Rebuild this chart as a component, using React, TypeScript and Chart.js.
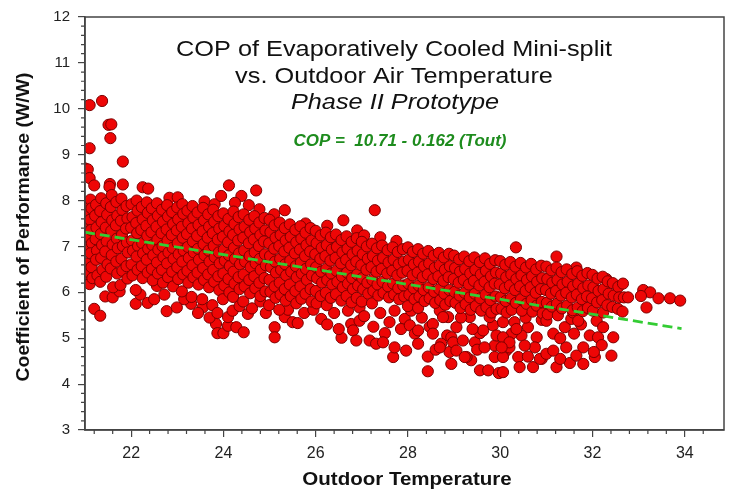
import { useEffect, useRef } from "react";
import { Chart, registerables } from "chart.js";

Chart.register(...registerables);

const FONT = '"Liberation Sans", Arial, Helvetica, sans-serif';

const X_MIN = 21;
const X_MAX = 34.85;
const Y_MIN = 3;
const Y_MAX = 12;
const xTickValues = [22, 24, 26, 28, 30, 32, 34];
const yTickValues = [3, 4, 5, 6, 7, 8, 9, 10, 11, 12];

const titleLines = [
  "COP of Evaporatively Cooled Mini-split",
  "vs. Outdoor Air Temperature",
  "Phase II Prototype",
];
const equationText = "COP =  10.71 - 0.162 (Tout)";
const xAxisTitle = "Outdoor Temperature";
const yAxisTitle = "Coefficient of Performance (W/W)";

// fitted regression line end points (x, COP)
const fitLine: [number, number][] = [
  [21.0, 7.31],
  [33.93, 5.21],
];

// measured points, grouped by outdoor temperature band
const t21: [number, number][] = [
  [21.10, 10.08], [21.37, 10.17], [21.51, 9.65], [21.57, 9.66], [21.55, 9.36], [21.10, 9.14], [21.82, 8.85],
  [21.00, 8.70], [21.06, 8.68], [21.10, 8.49], [21.20, 8.33], [21.54, 8.36], [21.82, 8.35], [21.53, 8.30],
  [21.20, 5.64], [21.33, 5.49], [21.10, 6.18], [21.44, 5.91], [21.60, 5.89], [21.02, 6.40], [21.75, 6.02],
  [21.02, 7.95], [21.03, 7.70], [21.01, 7.47], [21.04, 7.22], [21.02, 6.97], [21.03, 6.63], [21.05, 6.45],
  [21.12, 8.02], [21.14, 7.83], [21.11, 7.58], [21.13, 7.36], [21.15, 7.07], [21.12, 6.85], [21.14, 6.55], [21.16, 6.31],
  [21.24, 7.91], [21.22, 7.67], [21.25, 7.41], [21.23, 7.16], [21.26, 6.91], [21.24, 6.71], [21.27, 6.37],
  [21.35, 8.05], [21.33, 7.77], [21.36, 7.53], [21.34, 7.27], [21.37, 7.03], [21.35, 6.75], [21.38, 6.49], [21.33, 6.23],
  [21.46, 7.94], [21.48, 7.69], [21.45, 7.41], [21.47, 7.11], [21.44, 6.89], [21.49, 6.61], [21.46, 6.34],
  [21.58, 8.12], [21.56, 7.86], [21.59, 7.57], [21.57, 7.34], [21.60, 7.04], [21.58, 6.81], [21.56, 6.52], [21.61, 6.11],
  [21.68, 7.97], [21.70, 7.67], [21.67, 7.46], [21.69, 7.17], [21.71, 6.96], [21.68, 6.67], [21.70, 6.41],
  [21.79, 8.04], [21.81, 7.79], [21.78, 7.56], [21.80, 7.25], [21.82, 7.01], [21.79, 6.73], [21.81, 6.47], [21.77, 6.16],
  [21.90, 7.88], [21.92, 7.61], [21.89, 7.39], [21.91, 7.09], [21.93, 6.87], [21.90, 6.57], [21.92, 6.30],
];

const t22: [number, number][] = [
  [22.25, 8.29], [22.37, 8.26], [22.83, 8.06],
  [22.10, 5.75], [22.36, 5.77], [22.77, 5.59], [22.99, 5.67], [22.72, 5.95], [22.56, 6.14], [22.20, 5.95], [22.50, 5.85],
  [22.01, 7.92], [22.03, 7.64], [22.00, 7.41], [22.02, 7.13], [22.04, 6.91], [22.01, 6.61], [22.03, 6.37],
  [22.12, 8.00], [22.14, 7.78], [22.11, 7.51], [22.13, 7.29], [22.15, 7.01], [22.12, 6.78], [22.14, 6.49], [22.10, 6.05],
  [22.23, 7.86], [22.25, 7.59], [22.22, 7.36], [22.24, 7.07], [22.26, 6.85], [22.23, 6.57], [22.25, 6.31],
  [22.34, 7.96], [22.36, 7.73], [22.33, 7.45], [22.35, 7.23], [22.37, 6.95], [22.34, 6.71], [22.36, 6.43],
  [22.45, 7.83], [22.47, 7.57], [22.44, 7.31], [22.46, 7.03], [22.48, 6.81], [22.45, 6.51], [22.47, 6.26],
  [22.56, 7.94], [22.58, 7.67], [22.55, 7.43], [22.57, 7.15], [22.59, 6.93], [22.56, 6.65], [22.58, 6.41],
  [22.67, 7.80], [22.69, 7.54], [22.66, 7.29], [22.68, 7.01], [22.70, 6.77], [22.67, 6.49], [22.69, 6.21],
  [22.78, 7.90], [22.80, 7.65], [22.77, 7.37], [22.79, 7.13], [22.81, 6.87], [22.78, 6.63], [22.80, 6.33],
  [22.89, 7.75], [22.91, 7.49], [22.88, 7.25], [22.90, 6.97], [22.92, 6.73], [22.89, 6.45], [22.91, 6.13],
];

const t23: [number, number][] = [
  [23.01, 8.07], [23.59, 7.98], [23.81, 7.92], [23.95, 8.10],
  [23.30, 5.75], [23.55, 5.67], [23.84, 5.31], [23.87, 5.11], [23.70, 5.45], [23.15, 5.85], [23.45, 5.55],
  [23.00, 7.85], [23.02, 7.59], [22.99, 7.35], [23.01, 7.07], [23.03, 6.83], [23.00, 6.55], [23.02, 6.29],
  [23.11, 7.92], [23.13, 7.71], [23.10, 7.43], [23.12, 7.19], [23.14, 6.91], [23.11, 6.67], [23.13, 6.39], [23.10, 6.02],
  [23.22, 7.78], [23.24, 7.51], [23.21, 7.27], [23.23, 6.99], [23.25, 6.75], [23.22, 6.47], [23.24, 6.21],
  [23.33, 7.88], [23.35, 7.63], [23.32, 7.39], [23.34, 7.11], [23.36, 6.87], [23.33, 6.59], [23.35, 6.33], [23.31, 5.90],
  [23.44, 7.74], [23.46, 7.47], [23.43, 7.23], [23.45, 6.95], [23.47, 6.71], [23.44, 6.43], [23.46, 6.17],
  [23.56, 7.84], [23.58, 7.57], [23.55, 7.33], [23.57, 7.05], [23.59, 6.81], [23.56, 6.53], [23.58, 6.27], [23.54, 5.85],
  [23.67, 7.70], [23.69, 7.43], [23.66, 7.19], [23.68, 6.91], [23.70, 6.67], [23.67, 6.39], [23.69, 6.11],
  [23.78, 7.80], [23.80, 7.54], [23.77, 7.29], [23.79, 7.01], [23.81, 6.77], [23.78, 6.49], [23.80, 6.23], [23.76, 5.72],
  [23.89, 7.66], [23.91, 7.39], [23.88, 7.15], [23.90, 6.87], [23.92, 6.63], [23.89, 6.35], [23.91, 6.05], [23.87, 5.55],
];

const t24: [number, number][] = [
  [24.12, 8.33], [24.39, 8.10], [24.71, 8.22], [24.78, 7.81], [24.25, 7.95], [24.55, 7.90],
  [24.00, 5.11], [24.10, 5.27], [24.28, 5.24], [24.44, 5.13], [24.10, 5.46], [24.53, 5.53], [24.20, 5.60],
  [24.35, 5.70], [24.62, 5.65], [24.80, 5.80], [24.92, 5.55],
  [24.00, 7.72], [24.02, 7.45], [23.99, 7.21], [24.01, 6.93], [24.03, 6.69], [24.00, 6.41], [24.02, 6.15], [23.99, 5.85],
  [24.11, 7.60], [24.13, 7.33], [24.10, 7.09], [24.12, 6.81], [24.14, 6.57], [24.11, 6.29], [24.13, 6.00],
  [24.22, 7.76], [24.24, 7.49], [24.21, 7.25], [24.23, 6.97], [24.25, 6.73], [24.22, 6.45], [24.24, 6.19], [24.21, 5.90],
  [24.33, 7.64], [24.35, 7.37], [24.32, 7.13], [24.34, 6.85], [24.36, 6.61], [24.33, 6.33], [24.35, 6.07],
  [24.44, 7.70], [24.46, 7.43], [24.43, 7.19], [24.45, 6.91], [24.47, 6.67], [24.44, 6.39], [24.46, 6.13], [24.43, 5.80],
  [24.56, 7.58], [24.58, 7.31], [24.55, 7.07], [24.57, 6.79], [24.59, 6.55], [24.56, 6.27], [24.58, 5.98],
  [24.67, 7.66], [24.69, 7.39], [24.66, 7.15], [24.68, 6.87], [24.70, 6.63], [24.67, 6.35], [24.69, 6.09],
  [24.78, 7.52], [24.80, 7.25], [24.77, 7.01], [24.79, 6.73], [24.81, 6.49], [24.78, 6.21], [24.80, 5.92],
  [24.89, 7.62], [24.91, 7.35], [24.88, 7.11], [24.90, 6.83], [24.92, 6.59], [24.89, 6.31], [24.91, 6.02],
];

const t25: [number, number][] = [
  [25.33, 7.79], [25.78, 7.50], [25.10, 7.70],
  [25.11, 5.24], [25.11, 5.02], [25.33, 5.46], [25.50, 5.35], [25.61, 5.33], [25.40, 5.62], [25.75, 5.55], [25.95, 5.62],
  [25.00, 7.58], [25.02, 7.31], [24.99, 7.07], [25.01, 6.79], [25.03, 6.55], [25.00, 6.27], [25.02, 6.01], [24.99, 5.72],
  [25.11, 7.46], [25.13, 7.19], [25.10, 6.95], [25.12, 6.67], [25.14, 6.43], [25.11, 6.13], [25.13, 5.88],
  [25.22, 7.52], [25.24, 7.25], [25.21, 7.01], [25.23, 6.73], [25.25, 6.49], [25.22, 6.21], [25.24, 5.95], [25.21, 5.62],
  [25.33, 7.40], [25.35, 7.13], [25.32, 6.89], [25.34, 6.61], [25.36, 6.37], [25.33, 6.07], [25.35, 5.82],
  [25.44, 7.48], [25.46, 7.21], [25.43, 6.97], [25.45, 6.69], [25.47, 6.45], [25.44, 6.17], [25.46, 5.92],
  [25.56, 7.36], [25.58, 7.09], [25.55, 6.85], [25.57, 6.57], [25.59, 6.33], [25.56, 6.03], [25.58, 5.76],
  [25.67, 7.44], [25.69, 7.17], [25.66, 6.93], [25.68, 6.65], [25.70, 6.41], [25.67, 6.13], [25.69, 5.86],
  [25.78, 7.30], [25.80, 7.03], [25.77, 6.79], [25.79, 6.51], [25.81, 6.27], [25.78, 5.97],
  [25.89, 7.40], [25.91, 7.13], [25.88, 6.89], [25.90, 6.61], [25.92, 6.37], [25.89, 6.07], [25.91, 5.80],
];

const t26: [number, number][] = [
  [26.60, 7.57], [26.25, 7.45], [26.90, 7.35],
  [26.12, 5.42], [26.56, 5.01], [26.77, 5.31], [26.95, 5.38], [26.81, 5.17], [26.95, 5.67], [26.40, 5.55], [26.70, 5.60], [26.25, 5.30],
  [26.50, 5.20], [26.88, 4.95],
  [26.00, 7.34], [26.02, 7.07], [25.99, 6.83], [26.01, 6.55], [26.03, 6.31], [26.00, 6.03], [26.02, 5.76],
  [26.11, 7.24], [26.13, 6.97], [26.10, 6.73], [26.12, 6.45], [26.14, 6.21], [26.11, 5.92],
  [26.22, 7.30], [26.24, 7.03], [26.21, 6.79], [26.23, 6.51], [26.25, 6.27], [26.22, 5.99], [26.24, 5.72],
  [26.33, 7.20], [26.35, 6.93], [26.32, 6.69], [26.34, 6.41], [26.36, 6.17], [26.33, 5.88],
  [26.44, 7.26], [26.46, 6.99], [26.43, 6.75], [26.45, 6.47], [26.47, 6.23], [26.44, 5.96],
  [26.56, 7.14], [26.58, 6.87], [26.55, 6.63], [26.57, 6.35], [26.59, 6.11], [26.56, 5.82],
  [26.67, 7.22], [26.69, 6.95], [26.66, 6.71], [26.68, 6.43], [26.70, 6.19], [26.67, 5.92],
  [26.78, 7.10], [26.80, 6.83], [26.77, 6.59], [26.79, 6.31], [26.81, 6.07], [26.78, 5.78],
  [26.89, 7.18], [26.91, 6.91], [26.88, 6.67], [26.90, 6.39], [26.92, 6.15], [26.89, 5.88],
];

const t27: [number, number][] = [
  [27.28, 7.79], [27.05, 7.24], [27.40, 7.20], [27.75, 7.12],
  [27.17, 4.95], [27.31, 4.88], [27.50, 5.11], [27.60, 5.35], [27.71, 5.60], [27.68, 4.59], [27.96, 4.73],
  [27.46, 4.91], [27.93, 5.42], [27.05, 5.48], [27.40, 5.55], [27.85, 5.20], [27.71, 4.80], [27.25, 5.25],
  [27.00, 7.10], [27.02, 6.83], [26.99, 6.59], [27.01, 6.31], [27.03, 6.07], [27.00, 5.80],
  [27.11, 7.00], [27.13, 6.73], [27.10, 6.49], [27.12, 6.21], [27.14, 5.97],
  [27.22, 7.06], [27.24, 6.79], [27.21, 6.55], [27.23, 6.27], [27.25, 6.03], [27.22, 5.76],
  [27.33, 6.96], [27.35, 6.69], [27.32, 6.45], [27.34, 6.17], [27.36, 5.93],
  [27.44, 7.02], [27.46, 6.75], [27.43, 6.51], [27.45, 6.23], [27.47, 5.99],
  [27.56, 6.92], [27.58, 6.65], [27.55, 6.41], [27.57, 6.13], [27.59, 5.89],
  [27.67, 6.98], [27.69, 6.71], [27.66, 6.47], [27.68, 6.19], [27.70, 5.95],
  [27.78, 6.88], [27.80, 6.61], [27.77, 6.37], [27.79, 6.09], [27.81, 5.85],
  [27.89, 6.94], [27.91, 6.67], [27.88, 6.43], [27.90, 6.15], [27.92, 5.91],
];

const t28: [number, number][] = [
  [28.07, 5.60], [28.04, 5.28], [28.15, 5.10], [28.22, 4.88], [28.43, 4.28], [28.43, 4.60], [28.47, 5.25],
  [28.69, 5.60], [28.87, 5.46], [28.85, 5.06], [28.90, 4.70], [28.54, 5.31], [28.76, 5.46], [28.72, 4.88],
  [28.94, 5.02], [28.30, 5.45], [28.60, 4.75], [28.22, 5.17], [28.54, 5.10], [28.69, 4.80], [28.98, 4.91], [28.94, 4.44],
  [28.00, 6.98], [28.02, 6.71], [27.99, 6.47], [28.01, 6.19], [28.03, 5.95], [28.00, 5.70],
  [28.11, 6.88], [28.13, 6.61], [28.10, 6.37], [28.12, 6.09], [28.14, 5.85],
  [28.22, 6.94], [28.24, 6.67], [28.21, 6.43], [28.23, 6.15], [28.25, 5.91], [28.22, 5.66],
  [28.33, 6.84], [28.35, 6.57], [28.32, 6.33], [28.34, 6.05], [28.36, 5.81],
  [28.44, 6.90], [28.46, 6.63], [28.43, 6.39], [28.45, 6.11], [28.47, 5.87],
  [28.56, 6.80], [28.58, 6.53], [28.55, 6.29], [28.57, 6.01], [28.59, 5.77],
  [28.67, 6.86], [28.69, 6.59], [28.66, 6.35], [28.68, 6.07], [28.70, 5.83],
  [28.78, 6.76], [28.80, 6.49], [28.77, 6.25], [28.79, 5.97], [28.81, 5.73],
  [28.89, 6.84], [28.91, 6.57], [28.88, 6.33], [28.90, 6.05], [28.92, 5.81],
];

const t29: [number, number][] = [
  [29.05, 5.24], [29.19, 4.95], [29.45, 4.91], [29.56, 5.11], [29.88, 4.84], [29.84, 5.28], [29.92, 5.06],
  [29.37, 4.52], [29.56, 4.30], [29.74, 4.30], [29.97, 4.24], [29.34, 5.46], [29.05, 4.73], [29.27, 4.59],
  [29.63, 5.17], [29.77, 5.46], [29.15, 5.45], [29.50, 4.75], [29.66, 4.80], [29.88, 4.59], [29.23, 4.59], [29.40, 5.20],
  [29.00, 6.80], [29.02, 6.53], [28.99, 6.29], [29.01, 6.01], [29.03, 5.77],
  [29.11, 6.72], [29.13, 6.45], [29.10, 6.21], [29.12, 5.93], [29.14, 5.66],
  [29.22, 6.78], [29.24, 6.51], [29.21, 6.27], [29.23, 5.99], [29.25, 5.74],
  [29.33, 6.68], [29.35, 6.41], [29.32, 6.17], [29.34, 5.89], [29.36, 5.62],
  [29.44, 6.76], [29.46, 6.49], [29.43, 6.25], [29.45, 5.97], [29.47, 5.70],
  [29.56, 6.66], [29.58, 6.39], [29.55, 6.15], [29.57, 5.87], [29.59, 5.60],
  [29.67, 6.74], [29.69, 6.47], [29.66, 6.23], [29.68, 5.95], [29.70, 5.68],
  [29.78, 6.62], [29.80, 6.35], [29.77, 6.11], [29.79, 5.83], [29.81, 5.56],
  [29.89, 6.70], [29.91, 6.43], [29.88, 6.19], [29.90, 5.91], [29.92, 5.64],
];

const t30: [number, number][] = [
  [30.34, 6.98],
  [30.06, 5.35], [30.31, 5.35], [30.60, 5.24], [30.46, 5.06], [30.13, 4.73], [30.39, 4.59], [30.71, 4.37],
  [30.42, 4.37], [30.79, 5.02], [30.75, 4.80], [30.06, 4.26], [30.06, 4.59], [30.20, 4.80], [30.55, 5.45],
  [30.90, 5.40], [30.25, 5.10], [30.60, 4.60], [30.90, 4.55], [30.06, 5.02], [30.20, 4.91], [30.53, 4.84],
  [30.86, 4.55], [30.03, 4.80], [30.35, 5.20],
  [30.00, 6.68], [30.02, 6.41], [29.99, 6.17], [30.01, 5.89], [30.03, 5.64],
  [30.11, 6.60], [30.13, 6.33], [30.10, 6.09], [30.12, 5.81], [30.14, 5.56],
  [30.22, 6.66], [30.24, 6.39], [30.21, 6.15], [30.23, 5.87], [30.25, 5.62],
  [30.33, 6.56], [30.35, 6.29], [30.32, 6.05], [30.34, 5.77],
  [30.44, 6.64], [30.46, 6.37], [30.43, 6.13], [30.45, 5.85], [30.47, 5.60],
  [30.56, 6.54], [30.58, 6.27], [30.55, 6.03], [30.57, 5.75],
  [30.67, 6.62], [30.69, 6.35], [30.66, 6.11], [30.68, 5.83], [30.70, 5.58],
  [30.78, 6.50], [30.80, 6.23], [30.77, 5.99], [30.79, 5.71],
  [30.89, 6.58], [30.91, 6.31], [30.88, 6.07], [30.90, 5.79], [30.92, 5.54],
];

const t31: [number, number][] = [
  [31.22, 6.78], [31.65, 6.54],
  [31.00, 5.38], [31.40, 5.24], [31.54, 5.42], [31.00, 4.66], [31.22, 4.37], [31.51, 4.46], [31.43, 4.80],
  [31.80, 4.80], [31.94, 5.06], [31.15, 5.10], [31.60, 5.10], [31.75, 5.30], [31.30, 4.55], [31.58, 5.56],
  [31.15, 4.73], [31.65, 4.62], [31.80, 4.44], [31.69, 5.38], [31.30, 5.00],
  [31.00, 6.56], [31.02, 6.29], [30.99, 6.05], [31.01, 5.77], [31.03, 5.52],
  [31.11, 6.48], [31.13, 6.21], [31.10, 5.97], [31.12, 5.69],
  [31.22, 6.54], [31.24, 6.27], [31.21, 6.03], [31.23, 5.75], [31.25, 5.50],
  [31.33, 6.44], [31.35, 6.17], [31.32, 5.93], [31.34, 5.65],
  [31.44, 6.50], [31.46, 6.23], [31.43, 5.99], [31.45, 5.71],
  [31.56, 6.40], [31.58, 6.13], [31.55, 5.89], [31.57, 5.61],
  [31.67, 6.46], [31.69, 6.19], [31.66, 5.95], [31.68, 5.67],
  [31.78, 6.36], [31.80, 6.09], [31.77, 5.85], [31.79, 5.59],
  [31.89, 6.42], [31.91, 6.15], [31.88, 5.91], [31.90, 5.66],
];

const t32: [number, number][] = [
  [32.30, 6.29],
  [32.05, 4.59], [32.41, 4.62], [32.45, 5.02], [32.12, 5.02], [32.20, 4.85], [32.03, 4.70], [32.09, 5.38], [32.23, 5.24],
  [32.00, 6.38], [32.02, 6.11], [31.99, 5.87], [32.01, 5.60],
  [32.11, 6.30], [32.13, 6.03], [32.10, 5.78],
  [32.22, 6.34], [32.24, 6.07], [32.21, 5.83], [32.23, 5.56],
  [32.33, 6.24], [32.35, 5.97], [32.32, 5.72],
  [32.44, 6.20], [32.46, 5.93], [32.43, 5.68],
  [32.56, 6.12], [32.58, 5.89], [32.55, 5.64],
  [32.66, 6.19], [32.68, 5.89], [32.65, 5.58],
  [32.77, 5.89],
];

const t33: [number, number][] = [
  [33.10, 6.05], [33.25, 6.00], [33.43, 5.87], [33.68, 5.87], [33.90, 5.82], [33.17, 5.67], [33.05, 5.92],
];

const allBands = [t21, t22, t23, t24, t25, t26, t27, t28, t29, t30, t31, t32, t33];

function drawText(
  ctx: CanvasRenderingContext2D,
  text: string,
  x: number,
  y: number,
  font: string,
  color: string,
  sx = 1,
  rotate = 0
) {
  ctx.save();
  ctx.translate(x, y);
  if (rotate) ctx.rotate(rotate);
  ctx.scale(sx, 1);
  ctx.font = font;
  ctx.fillStyle = color;
  ctx.textAlign = "center";
  ctx.textBaseline = "middle";
  ctx.fillText(text, 0, 0);
  ctx.restore();
}

const decorPlugin = {
  id: "decor",
  afterDraw(chart: any) {
    const ctx: CanvasRenderingContext2D = chart.ctx;
    const { left, right, top, bottom } = chart.chartArea;
    const xs = chart.scales.x;
    const ys = chart.scales.y;
    ctx.save();
    ctx.strokeStyle = "#444";
    ctx.lineWidth = 1.5;
    ctx.strokeRect(left, top, right - left, bottom - top);
    // minor ticks
    ctx.lineWidth = 1.2;
    ctx.beginPath();
    for (let k = 1; k * 0.4 + X_MIN <= X_MAX + 1e-6; k++) {
      const v = X_MIN + k * 0.4 - 0.2;
      const isMajor = xTickValues.some((t) => Math.abs(t - v) < 1e-6);
      if (isMajor) continue;
      const px = xs.getPixelForValue(v);
      if (px > right + 0.5) continue;
      ctx.moveTo(px, bottom);
      ctx.lineTo(px, bottom + 4);
    }
    for (let k = 1; k < (Y_MAX - Y_MIN) * 5; k++) {
      if (k % 5 === 0) continue;
      const v = Y_MIN + k * 0.2;
      const py = ys.getPixelForValue(v);
      ctx.moveTo(left, py);
      ctx.lineTo(left - 4, py);
    }
    ctx.stroke();
    ctx.restore();

    drawText(ctx, titleLines[0], 394, 50, `22px ${FONT}`, "#111", 1.15);
    drawText(ctx, titleLines[1], 394, 77, `22px ${FONT}`, "#111", 1.15);
    drawText(ctx, titleLines[2], 395, 103, `italic 22px ${FONT}`, "#111", 1.15);
    drawText(ctx, equationText, 400, 142, `italic bold 16px ${FONT}`, "#1e8c1e", 1.06);
    drawText(ctx, xAxisTitle, 407, 480, `bold 19px ${FONT}`, "#111", 1.08);
    drawText(ctx, yAxisTitle, 24, 227, `bold 18px ${FONT}`, "#111", 1.08, -Math.PI / 2);
  },
};

export default function App() {
  const ref = useRef<HTMLCanvasElement>(null);
  useEffect(() => {
    const points = allBands.flat().map(([x, y]) => ({ x, y }));
    const chart = new Chart(ref.current as HTMLCanvasElement, {
      type: "scatter",
      data: {
        datasets: [
          {
            type: "line",
            data: fitLine.map(([x, y]) => ({ x, y })),
            borderColor: "#33cc33",
            borderWidth: 2.8,
            borderDash: [10, 5],
            pointRadius: 0,
            fill: false,
            order: 0,
            clip: 0,
          } as any,
          {
            type: "scatter",
            data: points,
            backgroundColor: "rgb(238,6,6)",
            borderColor: "rgb(125,0,0)",
            borderWidth: 1,
            pointRadius: 5.6,
            order: 1,
            clip: 0,
          } as any,
        ],
      },
      options: {
        animation: false,
        responsive: true,
        maintainAspectRatio: false,
        layout: { padding: { top: 15, right: 14, left: 0, bottom: 0 } },
        plugins: { legend: { display: false }, tooltip: { enabled: false } },
        scales: {
          x: {
            type: "linear",
            min: X_MIN,
            max: X_MAX,
            afterBuildTicks: (s: any) => {
              s.ticks = xTickValues.map((v) => ({ value: v }));
            },
            afterFit: (s: any) => {
              s.height = 62;
            },
            ticks: {
              font: { family: FONT, size: 16 },
              color: "#222",
              padding: 7,
              maxRotation: 0,
              autoSkip: false,
            },
            grid: { drawOnChartArea: false, drawTicks: true, tickLength: 7, color: "#444", lineWidth: 1.2 },
            border: { display: true, color: "#444", width: 1.5 },
          },
          y: {
            type: "linear",
            min: Y_MIN,
            max: Y_MAX,
            afterBuildTicks: (s: any) => {
              s.ticks = yTickValues.map((v) => ({ value: v }));
            },
            afterFit: (s: any) => {
              s.width = 85;
            },
            ticks: {
              font: { family: FONT, size: 15 },
              color: "#222",
              padding: 8,
              autoSkip: false,
            },
            grid: { drawOnChartArea: false, drawTicks: true, tickLength: 7, color: "#444", lineWidth: 1.2 },
            border: { display: true, color: "#444", width: 1.5 },
          },
        },
      } as any,
      plugins: [decorPlugin],
    });
    return () => chart.destroy();
  }, []);
  return (
    <div style={{ position: "absolute", left: 0, top: 0, width: 738, height: 492, background: "#fff" }}>
      <canvas ref={ref} />
    </div>
  );
}
